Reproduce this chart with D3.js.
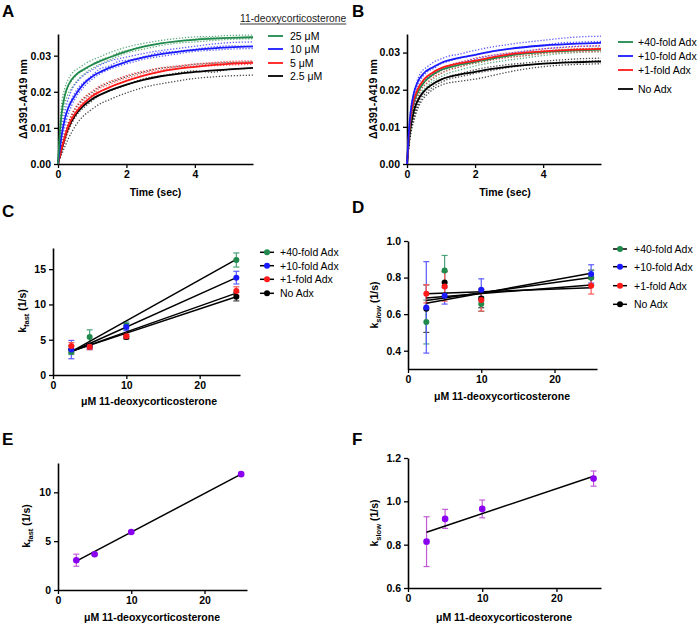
<!DOCTYPE html>
<html><head><meta charset="utf-8">
<script src="https://cdn.jsdelivr.net/npm/d3@7"></script>
<style>
body{margin:0;background:#fff;}
svg text{font-family:"Liberation Sans",Arial,sans-serif;}
.ax .domain{stroke:#000;stroke-width:1.6;}
.ax .tick line{stroke:#000;stroke-width:1.3;}
.ax .tick text{font-size:10.5px;font-weight:bold;fill:#000;}
</style></head>
<body>
<script>
// ---------- DATA ----------
// Panel A / B kinetic traces (time in sec, ΔA391-A419)
const fitTimes = [0, 0.05, 0.1, 0.2, 0.3, 0.5, 0.75, 1, 1.5, 2, 2.5, 3, 4, 5, 5.7];
const repTimes = [0, 0.1, 0.2, 0.3, 0.4, 0.6, 0.8, 1.0, 1.2, 1.5, 1.8, 2.1, 2.5, 3.0, 3.5, 4.0, 4.5, 5.0, 5.7];

const A_names = ["25 \u03bcM", "10 \u03bcM", "5 \u03bcM", "2.5 \u03bcM"];
const A_fit25 = [0, 0.008, 0.0135, 0.019, 0.0218, 0.0245, 0.0262, 0.0275, 0.0295, 0.0312, 0.0325, 0.0334, 0.0344, 0.0349, 0.0351];
const A_fit10 = [0, 0.004, 0.0075, 0.0125, 0.0155, 0.019, 0.0222, 0.0242, 0.0266, 0.0283, 0.0295, 0.0304, 0.0316, 0.0323, 0.0326];
const A_fit5 = [0, 0.002, 0.004, 0.0075, 0.0105, 0.014, 0.0168, 0.0188, 0.0212, 0.0230, 0.0245, 0.0256, 0.0269, 0.0277, 0.0280];
const A_fit2p5 = [0, 0.002, 0.0038, 0.0072, 0.0100, 0.0135, 0.0162, 0.0180, 0.0203, 0.0220, 0.0233, 0.0243, 0.0255, 0.0262, 0.0266];
const A_rep25a = [0, 0.016, 0.021, 0.0235, 0.025, 0.0265, 0.0278, 0.0288, 0.0296, 0.0308, 0.0318, 0.0326, 0.0334, 0.0342, 0.0348, 0.0352, 0.0353, 0.0356, 0.0357];
const A_rep25b = [0, 0.011, 0.0165, 0.0195, 0.021, 0.0235, 0.0252, 0.0265, 0.0275, 0.0288, 0.0300, 0.0310, 0.0318, 0.0328, 0.0335, 0.0338, 0.0342, 0.0345, 0.0347];
const A_rep25c = [0, 0.0135, 0.019, 0.0215, 0.023, 0.0252, 0.0262, 0.0276, 0.0287, 0.0296, 0.0310, 0.0316, 0.0326, 0.0334, 0.0340, 0.0346, 0.0350, 0.0349, 0.0352];
const A_rep10a = [0, 0.009, 0.0145, 0.018, 0.0205, 0.0232, 0.0249, 0.0260, 0.0272, 0.0285, 0.0292, 0.0298, 0.0306, 0.0314, 0.0320, 0.0326, 0.0332, 0.0336, 0.0338];
const A_rep10b = [0, 0.006, 0.0105, 0.0138, 0.0162, 0.0195, 0.0218, 0.0235, 0.0248, 0.0262, 0.0272, 0.0280, 0.0290, 0.0298, 0.0305, 0.0312, 0.0315, 0.0318, 0.0320];
const A_rep10c = [0, 0.0075, 0.0125, 0.0158, 0.0180, 0.0212, 0.0230, 0.0246, 0.0262, 0.0271, 0.0285, 0.0288, 0.0297, 0.0309, 0.0312, 0.0318, 0.0324, 0.0327, 0.0325];
const A_rep5a = [0, 0.005, 0.0085, 0.0115, 0.0138, 0.0168, 0.0188, 0.0202, 0.0215, 0.0228, 0.0238, 0.0248, 0.0257, 0.0266, 0.0272, 0.0277, 0.0281, 0.0284, 0.0286];
const A_rep5b = [0, 0.0035, 0.0065, 0.0092, 0.0115, 0.0148, 0.0168, 0.0185, 0.0198, 0.0212, 0.0224, 0.0234, 0.0245, 0.0256, 0.0264, 0.0269, 0.0272, 0.0274, 0.0276];
const A_rep5c = [0, 0.0042, 0.0075, 0.0102, 0.0128, 0.0157, 0.0180, 0.0192, 0.0208, 0.0220, 0.0232, 0.0240, 0.0252, 0.0260, 0.0269, 0.0272, 0.0278, 0.0280, 0.0282];
const A_rep2p5a = [0, 0.0045, 0.0082, 0.0112, 0.0135, 0.0165, 0.0185, 0.0198, 0.0212, 0.0225, 0.0235, 0.0245, 0.0255, 0.0265, 0.0270, 0.0276, 0.0279, 0.0281, 0.0283];
const A_rep2p5b = [0, 0.0025, 0.0048, 0.0070, 0.0088, 0.0118, 0.0138, 0.0152, 0.0165, 0.0178, 0.0190, 0.0200, 0.0212, 0.0222, 0.0230, 0.0237, 0.0241, 0.0244, 0.0246];
const A_rep2p5c = [0, 0.0035, 0.0065, 0.0092, 0.0112, 0.0142, 0.0160, 0.0175, 0.0190, 0.0202, 0.0212, 0.0222, 0.0236, 0.0244, 0.0252, 0.0258, 0.0254, 0.0262, 0.0265];

const B_names = ["+40-fold Adx", "+10-fold Adx", "+1-fold Adx", "No Adx"];
const B_fit40 = [0, 0.0068, 0.0115, 0.0165, 0.019, 0.022, 0.024, 0.0253, 0.0266, 0.0275, 0.0284, 0.0292, 0.0301, 0.0306, 0.0308];
const B_fit10 = [0, 0.008, 0.0135, 0.019, 0.0218, 0.0245, 0.026, 0.0272, 0.0285, 0.0294, 0.0303, 0.0310, 0.0319, 0.0324, 0.0326];
const B_fit1 = [0, 0.007, 0.012, 0.0172, 0.0198, 0.0228, 0.0246, 0.0258, 0.0270, 0.0278, 0.0287, 0.0295, 0.0303, 0.0308, 0.0310];
const B_fit0 = [0, 0.0055, 0.0095, 0.0142, 0.0168, 0.0196, 0.0215, 0.0227, 0.0240, 0.0248, 0.0256, 0.0262, 0.0270, 0.0274, 0.0276];
const B_rep40a = [0, 0.0115, 0.016, 0.0188, 0.0206, 0.0228, 0.0242, 0.0252, 0.0260, 0.0268, 0.0275, 0.0281, 0.0288, 0.0294, 0.0299, 0.0304, 0.0308, 0.0310, 0.0312];
const B_rep40b = [0, 0.0095, 0.0138, 0.0168, 0.0188, 0.0210, 0.0225, 0.0235, 0.0244, 0.0252, 0.0259, 0.0266, 0.0273, 0.0280, 0.0286, 0.0292, 0.0297, 0.0300, 0.0302];
const B_rep40c = [0, 0.0105, 0.015, 0.0178, 0.0198, 0.0218, 0.0232, 0.0244, 0.0254, 0.0260, 0.0268, 0.0272, 0.0281, 0.0288, 0.0292, 0.0298, 0.0304, 0.0305, 0.0308];
const B_rep10a = [0, 0.014, 0.019, 0.0225, 0.0245, 0.0262, 0.0275, 0.0283, 0.0290, 0.0295, 0.0302, 0.0308, 0.0315, 0.0322, 0.0328, 0.0333, 0.0338, 0.0342, 0.0344];
const B_rep10b = [0, 0.011, 0.0155, 0.0192, 0.0210, 0.0232, 0.0246, 0.0256, 0.0264, 0.0272, 0.0278, 0.0285, 0.0292, 0.0298, 0.0304, 0.0310, 0.0314, 0.0317, 0.0318];
const B_rep10c = [0, 0.0125, 0.0172, 0.0205, 0.0226, 0.0248, 0.0258, 0.0270, 0.0276, 0.0284, 0.0290, 0.0296, 0.0304, 0.0310, 0.0316, 0.0320, 0.0326, 0.0328, 0.0330];
const B_rep1a = [0, 0.012, 0.0165, 0.0195, 0.0213, 0.0235, 0.0248, 0.0258, 0.0265, 0.0273, 0.0280, 0.0287, 0.0293, 0.0299, 0.0304, 0.0310, 0.0313, 0.0316, 0.0318];
const B_rep1b = [0, 0.0105, 0.015, 0.0178, 0.0198, 0.0220, 0.0235, 0.0244, 0.0252, 0.0260, 0.0268, 0.0274, 0.0280, 0.0287, 0.0292, 0.0297, 0.0300, 0.0302, 0.0303];
const B_rep1c = [0, 0.0112, 0.0158, 0.0186, 0.0206, 0.0228, 0.0240, 0.0251, 0.0258, 0.0267, 0.0274, 0.0280, 0.0287, 0.0292, 0.0298, 0.0304, 0.0306, 0.0310, 0.0311];
const B_rep0a = [0, 0.009, 0.013, 0.016, 0.018, 0.0202, 0.0218, 0.0228, 0.0235, 0.0242, 0.0249, 0.0256, 0.0262, 0.0268, 0.0272, 0.0277, 0.0280, 0.0283, 0.0285];
const B_rep0b = [0, 0.0075, 0.0115, 0.0145, 0.0165, 0.0188, 0.0203, 0.0212, 0.0218, 0.0222, 0.0226, 0.0230, 0.0238, 0.0248, 0.0256, 0.0262, 0.0266, 0.0268, 0.0270];
const B_rep0c = [0, 0.0082, 0.0122, 0.0152, 0.0172, 0.0195, 0.0210, 0.0220, 0.0228, 0.0234, 0.0240, 0.0246, 0.0252, 0.0260, 0.0266, 0.0270, 0.0274, 0.0276, 0.0278];

// Panels C-F: rate constants vs [11-deoxycorticosterone] (µM)
const conc = [2.5, 5, 10, 25];
const C_vals = { g: [3.3, 5.4, 7.0, 16.3], b: [3.6, 4.0, 6.8, 13.8], r: [4.1, 4.0, 5.5, 11.9], k: [3.6, 4.1, 5.4, 11.1] };
const C_errs = { g: [0.4, 1.0, 0.5, 1.0], b: [1.3, 0.4, 0.5, 0.9], r: [0.5, 0.4, 0.3, 0.6], k: [0.5, 0.3, 0.3, 0.6] };
const C_fitStart = { g: 3.3, b: 3.3, r: 3.35, k: 3.35 };
const C_fitEnd = { g: 16.4, b: 13.8, r: 11.6, k: 11.1 };

const D_vals = { g: [0.557, 0.838, 0.655, 0.80], b: [0.637, 0.70, 0.733, 0.82], r: [0.711, 0.751, 0.677, 0.755], k: [0.63, 0.773, 0.685, 0.80] };
const D_errs = { g: [0.12, 0.083, 0.04, 0.04], b: [0.25, 0.045, 0.06, 0.05], r: [0.05, 0.08, 0.06, 0.045], k: [0.13, 0.06, 0.05, 0.04] };
const D_fitStart = { g: 0.675, b: 0.66, r: 0.711, k: 0.688 };
const D_fitEnd = { g: 0.80, b: 0.824, r: 0.745, k: 0.76 };

const E_vals = [3.05, 3.66, 5.93, 11.86];
const E_errs = [0.62, 0.1, 0.1, 0.1];
const E_fit = [2.95, 11.86];
const F_vals = [0.814, 0.919, 0.965, 1.105];
const F_errs = [0.115, 0.044, 0.041, 0.035];
const F_fit = [0.857, 1.116];

const timeTicks = [0, 2, 4];
const absTicks = [0, 0.01, 0.02, 0.03];
const concTicks = [0, 10, 20];
const C_ticks = [0, 5, 10, 15];
const D_ticks = [0.4, 0.6, 0.8, 1.0];
const E_ticks = [0, 5, 10];
const F_ticks = [0.6, 0.8, 1.0, 1.2];

// ---------- STYLE ----------
const col = { g: "#1f8a4c", b: "#1a1aff", r: "#ff1a1a", k: "#000000" };
const errCol = { g: "#4aa27a", b: "#5a5aff", r: "#ff5a5a", k: "#444444" };
const purple = "#8a00f0", purpleErr = "#c25ad6";

const svg = d3.select("body").append("svg").attr("width", 700).attr("height", 625);

function panel(o) {
  const x = d3.scaleLinear().domain(o.xd).range([o.x0, o.x1]);
  const y = d3.scaleLinear().domain(o.yd).range([o.yb, o.yt]);
  const g = svg.append("g");
  g.append("g").attr("class", "ax").attr("transform", `translate(0,${o.yb})`)
    .call(d3.axisBottom(x).tickValues(o.xt).tickSize(4).tickSizeOuter(0).tickPadding(3).tickFormat(d3.format("d")));
  g.append("g").attr("class", "ax").attr("transform", `translate(${o.x0},0)`)
    .call(d3.axisLeft(y).tickValues(o.ytv).tickSize(4).tickSizeOuter(0).tickPadding(3).tickFormat(o.yf));
  return { x, y, g };
}

function label(txt, x, y) {
  svg.append("text").attr("x", x).attr("y", y).attr("font-size", 17).attr("font-weight", "bold").text(txt);
}
function xTitle(txt, x, y) {
  svg.append("text").attr("x", x).attr("y", y).attr("text-anchor", "middle")
    .attr("font-size", 10.5).attr("font-weight", "bold").text(txt);
}
function yTitle(x, y, main, sub, rest, italicSub) {
  const t = svg.append("text").attr("transform", `translate(${x},${y}) rotate(-90)`)
    .attr("text-anchor", "middle").attr("font-size", 10.5).attr("font-weight", "bold");
  t.append("tspan").text(main);
  if (sub) {
    t.append("tspan").attr("font-size", 7.5).attr("dy", 3).attr("font-style", italicSub ? "italic" : "normal").text(sub);
    t.append("tspan").attr("dy", -3).text(rest);
  }
}
function drawReps(P, reps) {
  const line = d3.line().x((d, i) => P.x(repTimes[i])).y(d => P.y(d)).curve(d3.curveMonotoneX);
  reps.forEach(([a, c]) => P.g.append("path").attr("d", line(a)).attr("fill", "none")
    .attr("stroke", col[c]).attr("stroke-width", 1.3).attr("stroke-dasharray", "1.3,1.7").attr("opacity", 0.7));
}
function drawFits(P, fits) {
  const line = d3.line().x((d, i) => P.x(fitTimes[i])).y(d => P.y(d)).curve(d3.curveMonotoneX);
  fits.forEach(([a, c]) => P.g.append("path").attr("d", line(a)).attr("fill", "none")
    .attr("stroke", col[c]).attr("stroke-width", 1.8));
}

// ---------- PANEL A ----------
{
  const P = panel({ x0: 58, x1: 253, yb: 164, yt: 34, xd: [0, 5.7], yd: [0, 0.036], xt: timeTicks, ytv: absTicks, yf: d3.format(".2f") });
  drawReps(P, [[A_rep2p5a, "k"], [A_rep2p5b, "k"], [A_rep2p5c, "k"], [A_rep5a, "r"], [A_rep5b, "r"], [A_rep5c, "r"],
    [A_rep10a, "b"], [A_rep10b, "b"], [A_rep10c, "b"], [A_rep25a, "g"], [A_rep25b, "g"], [A_rep25c, "g"]]);
  drawFits(P, [[A_fit2p5, "k"], [A_fit5, "r"], [A_fit10, "b"], [A_fit25, "g"]]);
  xTitle("Time (sec)", 155.5, 196);
  svg.append("text").attr("transform", "translate(27,99) rotate(-90)").attr("text-anchor", "middle")
    .attr("font-size", 10.5).attr("font-weight", "bold").text("\u0394A391-A419 nm");
  const head = svg.append("text").attr("x", 240).attr("y", 22).attr("font-size", 10.3).attr("fill", "#222").text("11-deoxycorticosterone");
  const w = head.node().getComputedTextLength();
  svg.append("line").attr("x1", 240).attr("x2", 240 + w).attr("y1", 24).attr("y2", 24).attr("stroke", "#222").attr("stroke-width", 0.9);
  const rows = [36, 49, 63, 76], cs = ["g", "b", "r", "k"];
  A_names.forEach((n, i) => {
    svg.append("line").attr("x1", 268).attr("x2", 283).attr("y1", rows[i]).attr("y2", rows[i]).attr("stroke", col[cs[i]]).attr("stroke-width", 1.8);
    svg.append("text").attr("x", 290).attr("y", rows[i] + 3.8).attr("font-size", 10.5).text(n);
  });
  label("A", 2, 17);
}

// ---------- PANEL B ----------
{
  const P = panel({ x0: 407, x1: 601, yb: 164, yt: 34, xd: [0, 5.7], yd: [0, 0.035], xt: timeTicks, ytv: absTicks, yf: d3.format(".2f") });
  drawReps(P, [[B_rep0a, "k"], [B_rep0b, "k"], [B_rep0c, "k"], [B_rep40a, "g"], [B_rep40b, "g"], [B_rep40c, "g"],
    [B_rep1a, "r"], [B_rep1b, "r"], [B_rep1c, "r"], [B_rep10a, "b"], [B_rep10b, "b"], [B_rep10c, "b"]]);
  drawFits(P, [[B_fit0, "k"], [B_fit40, "g"], [B_fit1, "r"], [B_fit10, "b"]]);
  xTitle("Time (sec)", 505, 196);
  svg.append("text").attr("transform", "translate(377,99) rotate(-90)").attr("text-anchor", "middle")
    .attr("font-size", 10.5).attr("font-weight", "bold").text("\u0394A391-A419 nm");
  const rows = [42, 56, 70, 89], cs = ["g", "b", "r", "k"];
  B_names.forEach((n, i) => {
    svg.append("line").attr("x1", 618).attr("x2", 633).attr("y1", rows[i]).attr("y2", rows[i]).attr("stroke", col[cs[i]]).attr("stroke-width", 1.8);
    svg.append("text").attr("x", 638).attr("y", rows[i] + 3.8).attr("font-size", 10.5).text(n);
  });
  label("B", 352, 17);
}

function errbars(P, vals, errs, c, w) {
  conc.forEach((cx, i) => {
    const X = P.x(cx), y0 = P.y(vals[i] - errs[i]), y1 = P.y(vals[i] + errs[i]);
    P.g.append("line").attr("x1", X).attr("x2", X).attr("y1", y0).attr("y2", y1).attr("stroke", c).attr("stroke-width", 1.2);
    [y0, y1].forEach(yy => P.g.append("line").attr("x1", X - w).attr("x2", X + w).attr("y1", yy).attr("y2", yy).attr("stroke", c).attr("stroke-width", 1.2));
  });
}
function dots(P, vals, c, r) {
  conc.forEach((cx, i) => P.g.append("circle").attr("cx", P.x(cx)).attr("cy", P.y(vals[i])).attr("r", r).attr("fill", c));
}
function fitLine(P, a, b) {
  P.g.append("line").attr("x1", P.x(conc[0])).attr("x2", P.x(conc[3])).attr("y1", P.y(a)).attr("y2", P.y(b))
    .attr("stroke", "#000").attr("stroke-width", 1.5);
}
function dotLegend(x0, xt, rows) {
  const cs = ["g", "b", "r", "k"];
  B_names.forEach((n, i) => {
    svg.append("line").attr("x1", x0).attr("x2", x0 + 14).attr("y1", rows[i]).attr("y2", rows[i]).attr("stroke", "#000").attr("stroke-width", 1.5);
    svg.append("circle").attr("cx", x0 + 7).attr("cy", rows[i]).attr("r", 3).attr("fill", col[cs[i]]);
    svg.append("text").attr("x", xt).attr("y", rows[i] + 3.8).attr("font-size", 10.5).text(n);
  });
}
const order = ["k", "g", "b", "r"];

// ---------- PANEL C ----------
{
  const P = panel({ x0: 53, x1: 240, yb: 375, yt: 248, xd: [0, 25.5], yd: [0, 18], xt: concTicks, ytv: C_ticks, yf: d3.format("d") });
  order.forEach(c => errbars(P, C_vals[c], C_errs[c], errCol[c], 3));
  order.forEach(c => fitLine(P, C_fitStart[c], C_fitEnd[c]));
  order.forEach(c => dots(P, C_vals[c], col[c], 3));
  xTitle("\u03bcM 11-deoxycorticosterone", 149, 405);
  yTitle(26, 311, "k", "fast", " (1/s)", false);
  dotLegend(260, 280, [252.3, 265.7, 279.3, 293.3]);
  label("C", 2, 217);
}

// ---------- PANEL D ----------
{
  const P = panel({ x0: 408, x1: 597, yb: 369, yt: 241, xd: [0, 25.8], yd: [0.3, 1.0], xt: concTicks, ytv: D_ticks, yf: d3.format(".1f") });
  order.forEach(c => errbars(P, D_vals[c], D_errs[c], errCol[c], 3));
  order.forEach(c => fitLine(P, D_fitStart[c], D_fitEnd[c]));
  order.forEach(c => dots(P, D_vals[c], col[c], 3));
  xTitle("\u03bcM 11-deoxycorticosterone", 502, 400);
  yTitle(378, 305, "k", "slow", " (1/s)", true);
  dotLegend(613, 634, [249, 266.7, 285.7, 304.3]);
  label("D", 352, 213);
}

// ---------- PANEL E ----------
{
  const P = panel({ x0: 58, x1: 247, yb: 590, yt: 463, xd: [0, 25.8], yd: [0, 13], xt: concTicks, ytv: E_ticks, yf: d3.format("d") });
  errbars(P, E_vals, E_errs, purpleErr, 3);
  fitLine(P, E_fit[0], E_fit[1]);
  dots(P, E_vals, purple, 3.3);
  xTitle("\u03bcM 11-deoxycorticosterone", 152, 621);
  yTitle(30, 526, "k", "fast", " (1/s)", false);
  label("E", 2, 445);
}

// ---------- PANEL F ----------
{
  const P = panel({ x0: 408, x1: 601, yb: 588, yt: 458, xd: [0, 26], yd: [0.6, 1.2], xt: concTicks, ytv: F_ticks, yf: d3.format(".1f") });
  errbars(P, F_vals, F_errs, purpleErr, 3);
  fitLine(P, F_fit[0], F_fit[1]);
  dots(P, F_vals, purple, 3.3);
  xTitle("\u03bcM 11-deoxycorticosterone", 504, 621);
  yTitle(378, 523, "k", "slow", " (1/s)", false);
  label("F", 352, 445);
}
</script>
</body></html>
